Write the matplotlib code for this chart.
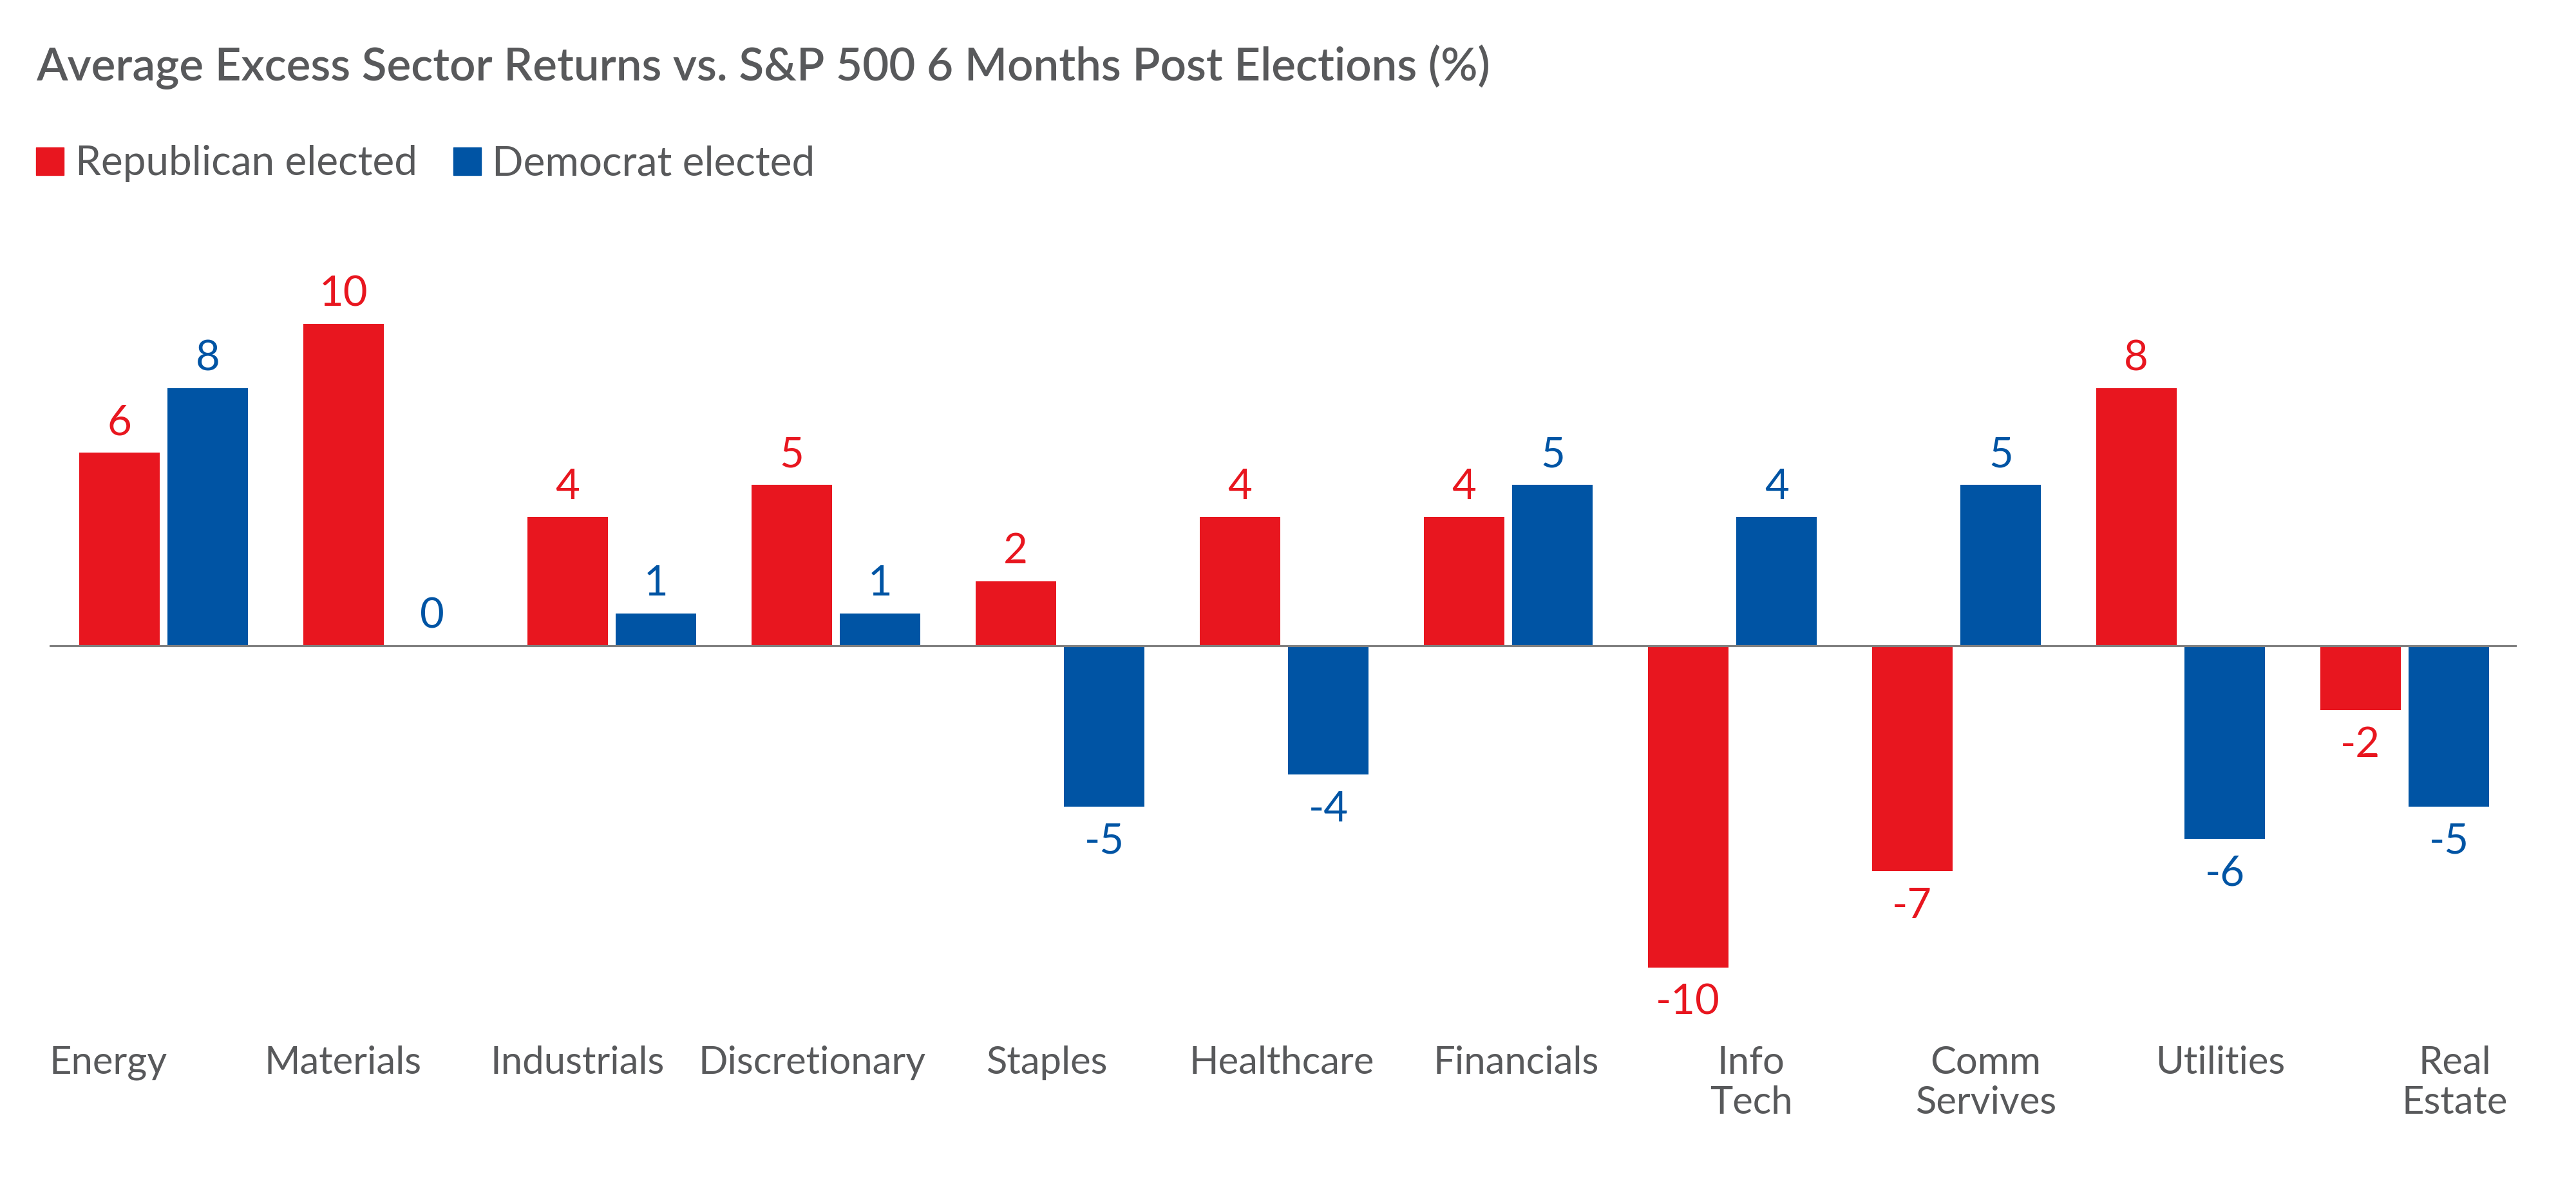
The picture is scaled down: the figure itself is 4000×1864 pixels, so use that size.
import numpy as np
import matplotlib.pyplot as plt
from matplotlib.patches import Rectangle

plt.rcParams['font.family'] = ['Lato', 'DejaVu Sans']

# Chart data
sectors = ["Energy", "Materials", "Industrials", "Discretionary", "Staples",
           "Healthcare", "Financials", "Info\nTech", "Comm\nServives",
           "Utilities", "Real\nEstate"]
republican = [6, 10, 4, 5, 2, 4, 4, -10, -7, 8, -2]
democrat = [8, 0, 1, 1, -5, -4, 5, 4, 5, -6, -5]
series_names = ["Republican elected", "Democrat elected"]

red = "#E8161F"
blue = "#0054A4"
grey_text = "#58595B"

W, H = 4000, 1864
fig = plt.figure(figsize=(W / 100, H / 100), dpi=100)
ax = fig.add_axes([76.5 / W, 1 - 1603 / H, (3908 - 76.5) / W, 1200 / H])

x = np.arange(len(sectors))
bw = 0.359
off = 0.198
ax.bar(x - off, republican, width=bw, color=red)
ax.bar(x + off, democrat, width=bw, color=blue)
ax.axhline(0, color="#808080", lw=2.3, zorder=3)

# value labels
for xs, vals, col in [(x - off, republican, red), (x + off, democrat, blue)]:
    for xi, v in zip(xs, vals):
        if v >= 0:
            ax.annotate(str(v), (xi, v), xytext=(0, 28), textcoords="offset pixels",
                        ha="center", va="baseline", fontsize=47, color=col)
        else:
            ax.annotate(str(v), (xi, v), xytext=(0, -73), textcoords="offset pixels",
                        ha="center", va="baseline", fontsize=47, color=col)

ax.set_xlim(-0.51, 10.5)
ax.set_ylim(-12, 12)

# category labels are spread a little wider than the bar groups
label_pos = -0.2465 + 1.0471 * x
ax.set_xticks(label_pos)
ax.set_xticklabels(sectors, fontsize=43, color=grey_text, linespacing=1.18)
ax.tick_params(axis="x", length=0, pad=15)
ax.set_yticks([])
for s in ax.spines.values():
    s.set_visible(False)

# title
fig.text(56 / W, 1 - 125 / H, "Average Excess Sector Returns vs. S&P 500 6 Months Post Elections (%)",
         fontsize=51, fontweight="semibold", color=grey_text, ha="left", va="baseline")

# legend
for (lx, tx), name, col in zip([(56, 117), (704, 764)], series_names, [red, blue]):
    fig.patches.append(Rectangle((lx / W, 1 - 272 / H), 43 / W, 43 / H,
                                 transform=fig.transFigure, color=col))
    fig.text(tx / W, 1 - 272 / H, name, fontsize=46, color=grey_text,
             ha="left", va="baseline")

fig.savefig("out.png", dpi=100, facecolor="white")
